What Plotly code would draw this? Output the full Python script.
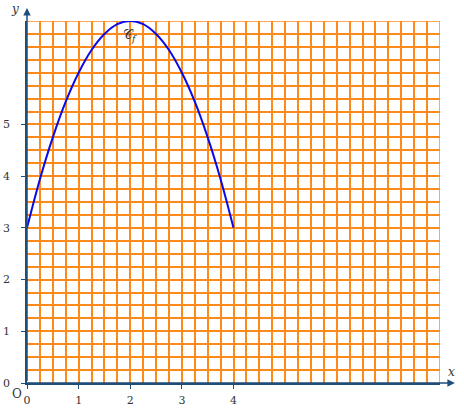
import plotly.graph_objects as go

# Data
curve_x = [0, 0.25, 0.5, 0.75, 1, 1.25, 1.5, 1.75, 2, 2.25, 2.5, 2.75, 3, 3.25, 3.5, 3.75, 4]
curve_y = [3, 3.94, 4.75, 5.44, 6, 6.44, 6.75, 6.94, 7, 6.94, 6.75, 6.44, 6, 5.44, 4.75, 3.94, 3]
x_ticks = [0, 1, 2, 3, 4]
y_ticks = [0, 1, 2, 3, 4, 5]
x_max, y_max = 8, 7
grid_step = 0.25

AXIS = "#1f4e79"
GRID = "#ff8a1c"
FONT = "DejaVu Serif"

fig = go.Figure()
fig.add_trace(go.Scatter(x=curve_x, y=curve_y, mode="lines",
                         line=dict(color="#0a0ae6", width=2, shape="spline"),
                         hoverinfo="skip", showlegend=False))

common = dict(showgrid=False, zeroline=False, showline=True, linecolor=AXIS, linewidth=1.5,
              ticks="outside", ticklen=4, tickcolor=AXIS, tickwidth=1, automargin=False,
              tickfont=dict(family=FONT, size=11, color="#333333"),
              minor=dict(dtick=grid_step, tick0=0, showgrid=True, gridcolor=GRID, gridwidth=1.5, ticks=""))

fig.update_xaxes(range=[0, x_max], tickmode="array", tickvals=x_ticks,
                 ticktext=[str(v) for v in x_ticks], ticklabelstandoff=2, **common)
fig.update_yaxes(range=[0, y_max], tickmode="array", tickvals=y_ticks,
                 ticktext=[str(v) for v in y_ticks], ticklabelstandoff=9, **common)

# border grid lines at x=8 and y=7
fig.add_shape(type="line", x0=x_max, x1=x_max, y0=0, y1=y_max, line=dict(color=GRID, width=1.5), layer="below")
fig.add_shape(type="line", x0=0, x1=x_max, y0=y_max, y1=y_max, line=dict(color=GRID, width=1.5), layer="below")

# axis arrows
fig.add_annotation(x=1.036, y=0, xref="paper", yref="paper", ax=-430, ay=0,
                   showarrow=True, arrowhead=2, arrowsize=1, arrowwidth=1.5, arrowcolor=AXIS,
                   text=" ", font=dict(size=1))
fig.add_annotation(x=0, y=1.036, xref="paper", yref="paper", ax=0, ay=375,
                   showarrow=True, arrowhead=2, arrowsize=1, arrowwidth=1.5, arrowcolor=AXIS,
                   text=" ", font=dict(size=1))

# labels
fig.add_annotation(x=1.029, y=0.03, xref="paper", yref="paper", text="<i>x</i>", showarrow=False,
                   xanchor="center", yanchor="middle", font=dict(family=FONT, size=12, color="#333333"))
fig.add_annotation(x=-0.029, y=1.033, xref="paper", yref="paper", text="<i>y</i>", showarrow=False,
                   xanchor="center", yanchor="middle", font=dict(family=FONT, size=12, color="#333333"))
fig.add_annotation(x=-0.008, y=-0.005, xref="paper", yref="paper", text="O", showarrow=False,
                   xanchor="right", yanchor="top", font=dict(family=FONT, size=12, color="#333333"))
fig.add_annotation(x=2, y=6.72, xref="x", yref="y", text="𝒞<sub><i>f</i></sub>", showarrow=False,
                   font=dict(family=FONT, size=13, color="#333333"))

fig.update_layout(width=464, height=410, margin=dict(l=27, r=24, t=21, b=27),
                  plot_bgcolor="white", paper_bgcolor="white")

# remove the browser's default 8px body margin so the figure fills the window
fig.write_html("out.html", config={"displayModeBar": False},
               post_script="document.body.style.margin='0';")
